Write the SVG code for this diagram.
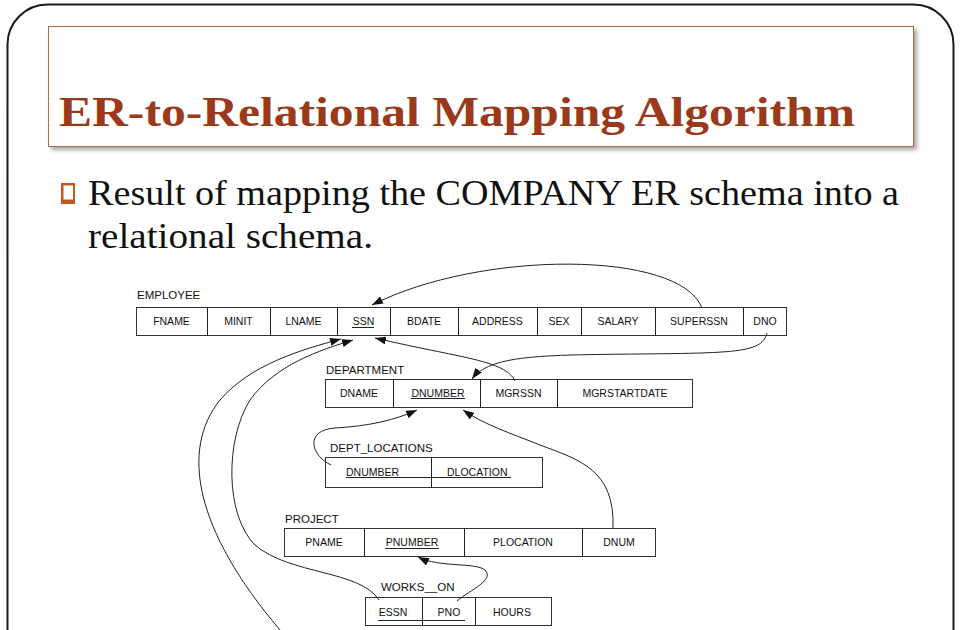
<svg xmlns="http://www.w3.org/2000/svg" width="960" height="630" viewBox="0 0 960 630">
<defs>
<style>
.cell{fill:#fff;stroke:#333;stroke-width:1}
.t{font-family:"Liberation Sans",Arial,sans-serif;font-size:10.5px;fill:#111;text-anchor:middle}
.ts{font-family:"Liberation Sans",Arial,sans-serif;font-size:10.5px;fill:#111}
.lbl{font-family:"Liberation Sans",Arial,sans-serif;font-size:11.5px;fill:#111}
.ul{stroke:#222;stroke-width:1}
.c{fill:none;stroke:#222;stroke-width:1}
</style>
<marker id="ah" markerUnits="userSpaceOnUse" markerWidth="11" markerHeight="8" refX="11" refY="4" orient="auto">
<path d="M0,0 L11,4 L0,8 z" fill="#111"/>
</marker>
<filter id="sh" x="-5%" y="-10%" width="110%" height="130%">
<feDropShadow dx="3" dy="3" stdDeviation="2" flood-color="#000" flood-opacity="0.35"/>
</filter>
</defs>
<rect width="960" height="630" fill="#fff"/>
<rect x="7.5" y="4.5" width="946" height="720" rx="40" ry="40" fill="none" stroke="#1a1a1a" stroke-width="2"/>
<g id="title">
<rect x="48.5" y="26.5" width="865" height="120" fill="#fff" stroke="#b0694a" stroke-width="1" filter="url(#sh)"/>
<text x="59" y="126" font-family="'Liberation Serif','Times New Roman',serif" font-weight="bold" font-size="43" fill="#9a3a1a" textLength="796" lengthAdjust="spacingAndGlyphs">ER-to-Relational Mapping Algorithm</text>
</g>
<g id="bullet">
<rect x="61" y="183" width="14" height="21" fill="#c8541e"/>
<rect x="63.5" y="185.5" width="9.5" height="14" fill="#fff"/>
<text x="88" y="205" font-family="'Liberation Serif','Times New Roman',serif" font-size="35" fill="#111" textLength="811" lengthAdjust="spacingAndGlyphs">Result of mapping the COMPANY ER schema into a</text>
<text x="88" y="248" font-family="'Liberation Serif','Times New Roman',serif" font-size="35" fill="#111" textLength="285" lengthAdjust="spacingAndGlyphs">relational schema.</text>
</g>
<g id="employee">
<text class="lbl" x="137" y="299">EMPLOYEE</text>
<rect class="cell" x="136.5" y="307.5" width="650" height="28"/>
<path class="ul" d="M207.5 307.5V335.5M270.5 307.5V335.5M337.5 307.5V335.5M390.5 307.5V335.5M458.5 307.5V335.5M537.5 307.5V335.5M581.5 307.5V335.5M655.5 307.5V335.5M743.5 307.5V335.5"/>
<text class="t" x="171.5" y="325">FNAME</text>
<text class="t" x="238.5" y="325">MINIT</text>
<text class="t" x="303.5" y="325">LNAME</text>
<text class="t" x="363.5" y="325">SSN</text>
<line class="ul" x1="352" y1="327.5" x2="374" y2="327.5"/>
<text class="t" x="424" y="325">BDATE</text>
<text class="t" x="497.5" y="325">ADDRESS</text>
<text class="t" x="559" y="325">SEX</text>
<text class="t" x="618" y="325">SALARY</text>
<text class="t" x="699" y="325">SUPERSSN</text>
<text class="t" x="765" y="325">DNO</text>
</g>
<g id="department">
<text class="lbl" x="326" y="374">DEPARTMENT</text>
<rect class="cell" x="325.5" y="379.5" width="367" height="28"/>
<path class="ul" d="M393.5 379.5V407.5M480.5 379.5V407.5M557.5 379.5V407.5"/>
<text class="t" x="359" y="397">DNAME</text>
<text class="t" x="438" y="397">DNUMBER</text>
<line class="ul" x1="411" y1="398.5" x2="465" y2="398.5"/>
<text class="t" x="518.5" y="397">MGRSSN</text>
<text class="t" x="625" y="397">MGRSTARTDATE</text>
</g>
<g id="dept_locations">
<text class="lbl" x="330" y="452">DEPT_LOCATIONS</text>
<rect class="cell" x="325.5" y="457.5" width="217" height="30"/>
<path class="ul" d="M431.5 457.5V487.5"/>
<text class="ts" x="346" y="475.5">DNUMBER</text>
<text class="ts" x="447" y="475.5">DLOCATION</text>
<line class="ul" x1="346" y1="477.5" x2="511" y2="477.5"/>
</g>
<g id="project">
<text class="lbl" x="285" y="523">PROJECT</text>
<rect class="cell" x="284.5" y="528.5" width="371" height="28"/>
<path class="ul" d="M364.5 528.5V556.5M464.5 528.5V556.5M582.5 528.5V556.5"/>
<text class="t" x="324" y="546">PNAME</text>
<text class="t" x="412" y="546">PNUMBER</text>
<line class="ul" x1="385" y1="548.5" x2="439" y2="548.5"/>
<text class="t" x="523" y="546">PLOCATION</text>
<text class="t" x="619" y="546">DNUM</text>
</g>
<g id="works_on">
<text class="lbl" x="381" y="591">WORKS__ON</text>
<rect class="cell" x="365.5" y="597.5" width="186" height="28"/>
<path class="ul" d="M422.5 597.5V625.5M475.5 597.5V625.5"/>
<text class="t" x="393" y="615.5">ESSN</text>
<text class="t" x="449" y="615.5">PNO</text>
<line class="ul" x1="378" y1="620.5" x2="465" y2="620.5"/>
<text class="t" x="512" y="615.5">HOURS</text>
</g>
<g id="connectors">
<path class="c" marker-end="url(#ah)" d="M702 308 C680 250 480 250 372 305"/>
<path class="c" marker-end="url(#ah)" d="M767 333 C762 352 740 353 640 354 C540 355 490 355 472 379"/>
<path class="c" marker-end="url(#ah)" d="M515 381 C505 360 460 358 375 338"/>
<path class="c" marker-end="url(#ah)" d="M280 630 C195 530 180 450 220 400 C250 365 300 350 341 339"/>
<path class="c" marker-end="url(#ah)" d="M379 600 C360 570 290 575 255 545 C225 515 225 440 250 400 C275 365 320 350 353 340"/>
<path class="c" marker-end="url(#ah)" d="M457 601 C470 590 495 580 485 570 C475 562 440 568 418 557"/>
<path class="c" marker-end="url(#ah)" d="M331 465 C310 455 305 430 335 428 C370 426 395 420 417 410"/>
<path class="c" marker-end="url(#ah)" d="M613 528 C615 470 580 460 540 445 C510 433 485 425 463 410"/>
</g>
</svg>
